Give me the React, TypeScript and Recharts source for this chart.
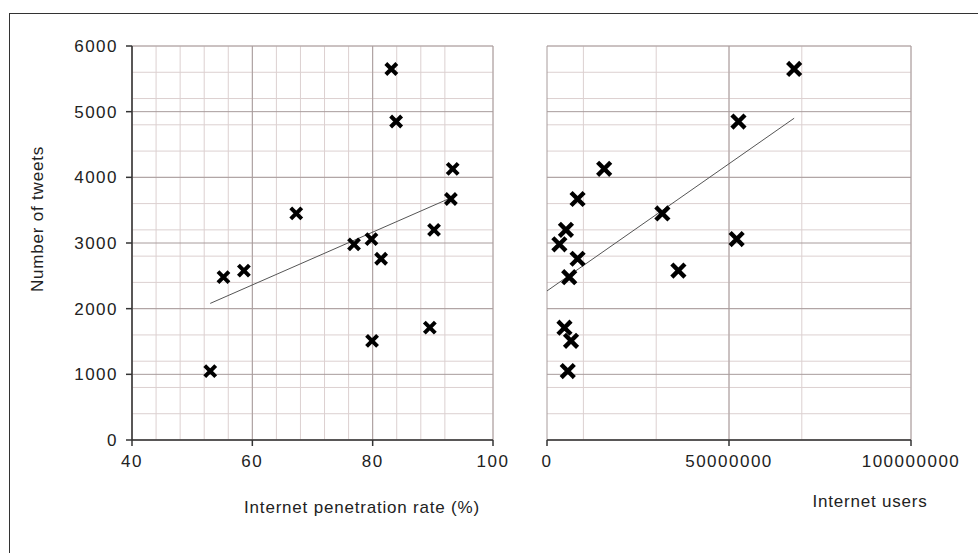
import React from "react";
import {
  ScatterChart,
  Scatter,
  XAxis,
  YAxis,
  CartesianGrid,
  ReferenceLine,
} from "recharts";

// one entry per country, same order in every array
const tweets = [5650, 4850, 4130, 3670, 3450, 3200, 2980, 3060, 2760, 2580, 2480, 1710, 1510, 1050];
const penetration = [83.1, 83.9, 93.3, 93.0, 67.3, 90.2, 76.9, 79.8, 81.4, 58.6, 55.2, 89.5, 79.9, 53.0];
const users = [67.9e6, 52.6e6, 15.7e6, 8.4e6, 31.7e6, 5.2e6, 3.4e6, 52.1e6, 8.4e6, 36.1e6, 6.1e6, 4.8e6, 6.6e6, 5.7e6];

// trendline end points
const penetrationTrend = [
  { x: 53.0, y: 2080 },
  { x: 93.3, y: 3700 },
];
const usersTrend = [
  { x: 0, y: 2270 },
  { x: 67.9e6, y: 4900 },
];

const yTicks = [0, 1000, 2000, 3000, 4000, 5000, 6000];
const penetrationTicks = [40, 60, 80, 100];
const usersTicks = [0, 50000000, 100000000];

const steps = (min: number, max: number, step: number) =>
  Array.from({ length: Math.round((max - min) / step) + 1 }, (_, i) => min + i * step);

const FONT = "'Liberation Sans', Arial, sans-serif";
const TEXT = "#222";
const AXIS = "#333";
const MAJOR = "#a89c9c";
const MINOR = "#dcd0d0";

const penetrationData = penetration.map((x, i) => ({ x, y: tweets[i] }));
const usersData = users.map((x, i) => ({ x, y: tweets[i] }));

const XMark = (props: any) => {
  const { cx, cy, bold } = props;
  const r = bold ? 5 : 5.5;
  return (
    <path
      d={`M${cx - r},${cy - r}L${cx + r},${cy + r}M${cx - r},${cy + r}L${cx + r},${cy - r}`}
      stroke="#000"
      strokeWidth={bold ? 4.4 : 4}
      strokeLinecap={bold ? "square" : "butt"}
      fill="none"
    />
  );
};

const tickStyle = { fill: TEXT, fontSize: 17, fontFamily: FONT, letterSpacing: 1.5 };

const titleStyle: React.CSSProperties = {
  position: "absolute",
  whiteSpace: "nowrap",
  fontFamily: FONT,
  fontSize: 17,
  letterSpacing: 0.8,
  color: TEXT,
};

export default function App() {
  return (
    <div style={{ position: "absolute", left: 0, top: 0, width: 978, height: 553, background: "#fff", overflow: "hidden" }}>
      <div
        style={{
          position: "absolute",
          left: 9,
          top: 13,
          width: 1000,
          height: 600,
          borderTop: "1px solid #333",
          borderLeft: "1px solid #333",
        }}
      />

      <div style={{ position: "absolute", left: 0, top: 0 }}>
        <ScatterChart width={520} height={553} margin={{ top: 46, right: 27, left: 82, bottom: 83 }}>
          <CartesianGrid
            stroke={MINOR}
            horizontalValues={steps(0, 6000, 200)}
            verticalValues={steps(40, 100, 4)}
          />
          <CartesianGrid
            stroke={MAJOR}
            horizontalValues={yTicks}
            verticalValues={penetrationTicks}
          />
          <XAxis
            type="number"
            dataKey="x"
            domain={[40, 100]}
            ticks={penetrationTicks}
            height={30}
            tick={tickStyle}
            tickSize={6}
            tickMargin={9}
            axisLine={{ stroke: AXIS, strokeWidth: 1.5 }}
            tickLine={{ stroke: AXIS, strokeWidth: 1.5 }}
          />
          <YAxis
            type="number"
            dataKey="y"
            domain={[0, 6000]}
            ticks={yTicks}
            width={50}
            tick={tickStyle}
            tickSize={6}
            tickMargin={8}
            axisLine={{ stroke: AXIS, strokeWidth: 1.5 }}
            tickLine={{ stroke: AXIS, strokeWidth: 1.5 }}
          />
          <ReferenceLine segment={penetrationTrend} stroke="#555" strokeWidth={1} />
          <Scatter data={penetrationData} shape={<XMark />} isAnimationActive={false} />
        </ScatterChart>
      </div>

      <div style={{ position: "absolute", left: 520, top: 0 }}>
        <ScatterChart width={458} height={553} margin={{ top: 46, right: 67, left: 27, bottom: 83 }}>
          <CartesianGrid
            stroke={MINOR}
            horizontalValues={steps(0, 6000, 200)}
            verticalValues={steps(0, 100000000, 10000000)}
          />
          <CartesianGrid
            stroke={MAJOR}
            horizontalValues={yTicks}
            verticalValues={usersTicks}
          />
          <XAxis
            type="number"
            dataKey="x"
            domain={[0, 100000000]}
            ticks={usersTicks}
            height={30}
            tick={tickStyle}
            tickSize={6}
            tickMargin={9}
            axisLine={{ stroke: AXIS, strokeWidth: 1.5 }}
            tickLine={{ stroke: AXIS, strokeWidth: 1.5 }}
          />
          <YAxis type="number" dataKey="y" domain={[0, 6000]} ticks={yTicks} hide />
          <ReferenceLine segment={usersTrend} stroke="#555" strokeWidth={1} />
          <Scatter data={usersData} shape={<XMark bold />} isAnimationActive={false} />
        </ScatterChart>
      </div>

      <div style={{ ...titleStyle, left: 38, top: 219, transform: "translate(-50%, -50%) rotate(-90deg)" }}>
        Number of tweets
      </div>
      <div style={{ ...titleStyle, left: 362, top: 508, transform: "translate(-50%, -50%)" }}>
        Internet penetration rate (%)
      </div>
      <div style={{ ...titleStyle, left: 870, top: 502, transform: "translate(-50%, -50%)" }}>
        Internet users
      </div>
    </div>
  );
}
